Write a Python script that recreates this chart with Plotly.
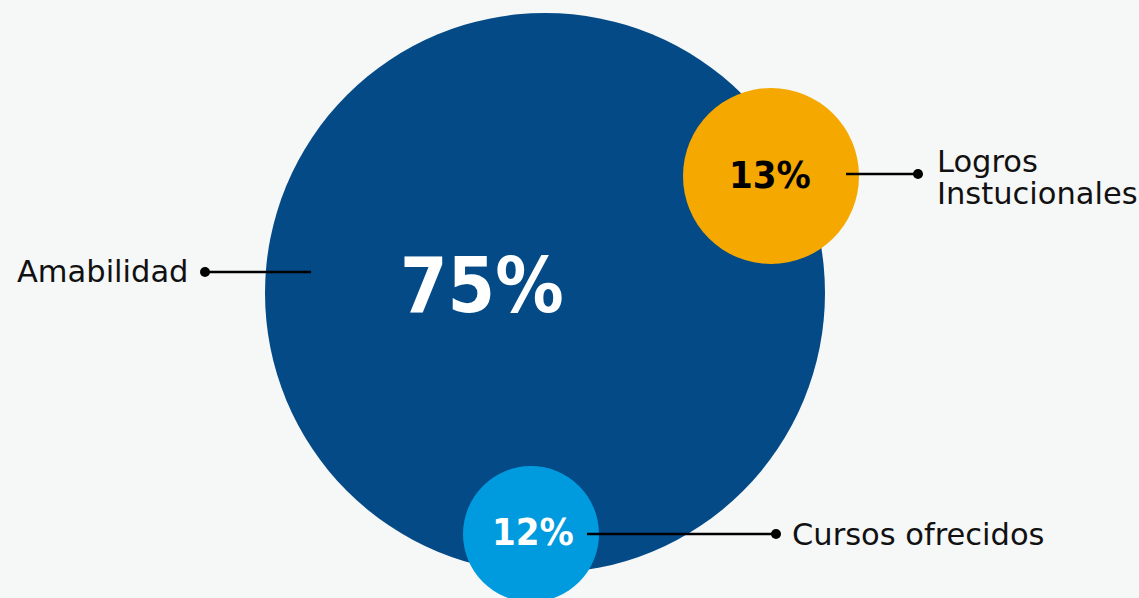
import plotly.graph_objects as go

# ---- data ----
labels = ["Amabilidad", "Logros\nInstucionales", "Cursos ofrecidos"]
values = [75, 13, 12]
value_text = [f"{v}%" for v in values]

# ---- layout / style (pixel coordinates of the 1139x598 canvas) ----
W, H = 1139, 598
circle_cx = [545, 771, 531]
circle_cy = [293, 176, 534]
circle_r = [280, 88, 68]
circle_colors = ["#034a87", "#f5a800", "#009bde"]
pct_colors = ["white", "black", "white"]
pct_sizes = [76, 38, 38]
pct_x = [482, 770, 533]
pct_y = [285, 175, 532]
# leader lines: (start x, dot x, y)
lead_from = [311, 846, 587]
lead_dot = [205, 918, 776]
lead_y = [272, 174, 534]
label_x = [190, 935, 790]
label_anchor = ["right", "left", "left"]
label_y = [[271], [161, 193], [534]]
bg = "#f6f7f7"

pct_font = "Liberation Sans Narrow, DejaVu Sans Condensed, Arial Narrow, sans-serif"
label_font = "DejaVu Sans, sans-serif"

fig = go.Figure()

shapes = []
for cx, cy, r, col in zip(circle_cx, circle_cy, circle_r, circle_colors):
    shapes.append(dict(type="circle", xref="x", yref="y",
                       x0=cx - r, x1=cx + r, y0=cy - r, y1=cy + r,
                       fillcolor=col, line=dict(width=0), layer="below"))

for x0, x1, y in zip(lead_from, lead_dot, lead_y):
    fig.add_trace(go.Scatter(x=[x0, x1], y=[y, y], mode="lines",
                             line=dict(color="black", width=2.5),
                             hoverinfo="skip", showlegend=False))
fig.add_trace(go.Scatter(x=lead_dot, y=lead_y, mode="markers",
                         marker=dict(color="black", size=10),
                         hoverinfo="skip", showlegend=False))

annotations = []
for t, x, y, c, s in zip(value_text, pct_x, pct_y, pct_colors, pct_sizes):
    annotations.append(dict(x=x, y=y, xref="x", yref="y", text=f"<b>{t}</b>",
                            showarrow=False, xanchor="center", yanchor="middle",
                            font=dict(family=pct_font, size=s, color=c)))
for lab, x, anc, ys in zip(labels, label_x, label_anchor, label_y):
    for line, y in zip(lab.split("\n"), ys):
        annotations.append(dict(x=x, y=y, xref="x", yref="y", text=line,
                                showarrow=False, xanchor=anc, yanchor="middle",
                                font=dict(family=label_font, size=30.5, color="#111111")))

fig.update_layout(
    width=W, height=H,
    margin=dict(l=0, r=0, t=0, b=0),
    paper_bgcolor=bg, plot_bgcolor=bg,
    shapes=shapes, annotations=annotations,
    xaxis=dict(range=[0, W], visible=False, fixedrange=True),
    yaxis=dict(range=[H, 0], visible=False, fixedrange=True),
    showlegend=False,
)

fig.write_html("out.html", config={"displayModeBar": False},
               post_script="document.body.style.margin='0';document.body.style.overflow='hidden';")
